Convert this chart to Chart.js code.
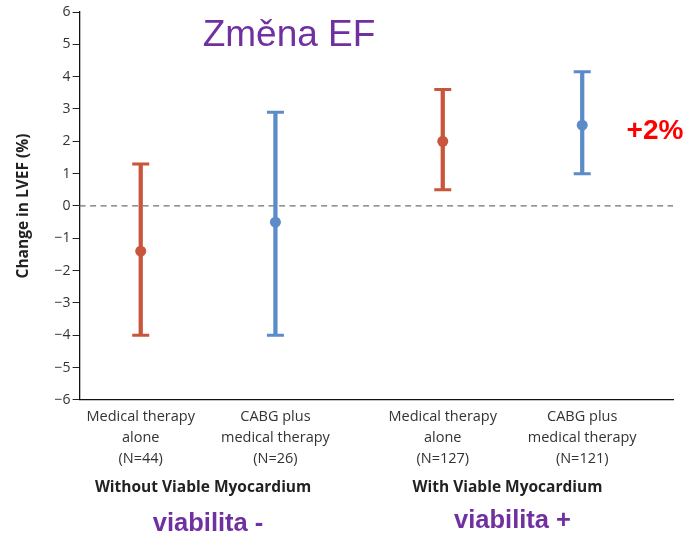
<!DOCTYPE html>
<html>
<head>
<meta charset="utf-8">
<script src="https://cdn.jsdelivr.net/npm/chart.js@4"></script>
<style>
  html, body { margin: 0; padding: 0; background: #fff; }
  #wrap { width: 687px; height: 535px; position: relative; }
</style>
</head>
<body>
<div id="wrap"><canvas id="c" width="687" height="535"></canvas></div>
<script>
// Change in LVEF by treatment arm, split by myocardial viability
const armLabels = [
  ['Medical therapy', 'alone', '(N=44)'],
  ['CABG plus', 'medical therapy', '(N=26)'],
  ['Medical therapy', 'alone', '(N=127)'],
  ['CABG plus', 'medical therapy', '(N=121)']
];
const meanChange = [-1.4, -0.5, 2.0, 2.5];
const ciLow      = [-4.0, -4.0, 0.5, 1.0];
const ciHigh     = [1.3, 2.9, 3.6, 4.15];
const groupLabels = ['Without Viable Myocardium', 'With Viable Myocardium'];
const viabilityLabels = ['viabilita -', 'viabilita +'];
const yTicks = [-6, -5, -4, -3, -2, -1, 0, 1, 2, 3, 4, 5, 6];

// horizontal slot of each arm on the x axis (gap between the two groups)
const slot = [1.03, 3.3, 6.12, 8.47];
const RED = '#C9553C';
const BLUE = '#5B8BC9';
const armColors = [RED, BLUE, RED, BLUE];
const FONT = '"Open Sans", Lato, sans-serif';
const ARIAL = '"Liberation Sans", Arial, sans-serif';

const pts = (vals) => vals.map((v, i) => ({ x: slot[i], y: v }));

const annotations = {
  id: 'annotations',
  beforeDatasetsDraw(chart) {
    const { ctx, chartArea, scales: { y } } = chart;
    const y0 = y.getPixelForValue(0);
    ctx.save();
    ctx.strokeStyle = '#707070';
    ctx.lineWidth = 1.3;
    ctx.setLineDash([6, 4.5]);
    ctx.beginPath();
    ctx.moveTo(chartArea.left, y0);
    ctx.lineTo(chartArea.right, y0);
    ctx.stroke();
    ctx.restore();
  },
  afterDraw(chart) {
    const { ctx, chartArea, scales: { x, y } } = chart;
    ctx.save();
    ctx.textAlign = 'center';
    ctx.textBaseline = 'middle';

    ctx.fillStyle = '#7030A0';
    ctx.font = '37px ' + ARIAL;
    ctx.fillText('Změna EF', 289, 36);

    ctx.fillStyle = '#FF0000';
    ctx.font = 'bold 28px ' + ARIAL;
    ctx.fillText('+2%', 655, y.getPixelForValue(2.3));

    for (let g = 0; g < 2; g++) {
      const cx = (x.getPixelForValue(slot[2 * g]) + x.getPixelForValue(slot[2 * g + 1])) / 2;
      ctx.fillStyle = '#222';
      ctx.font = 'bold 15.5px ' + FONT;
      ctx.fillText(groupLabels[g], cx - 5, chartArea.bottom + 88);
      ctx.fillStyle = '#7030A0';
      ctx.font = 'bold 25.5px ' + ARIAL;
      ctx.fillText(viabilityLabels[g], cx, chartArea.bottom + 124 - 3 * g);
    }
    ctx.restore();
  }
};

new Chart(document.getElementById('c'), {
  data: {
    datasets: [
      {
        type: 'bar',
        data: ciLow.map((lo, i) => ({ x: slot[i], y: [lo, ciHigh[i]] })),
        backgroundColor: armColors,
        barThickness: 3.6,
        grouped: false,
        order: 3
      },
      {
        type: 'scatter',
        data: pts(ciLow).concat(pts(ciHigh)),
        pointStyle: 'line',
        radius: 8.5,
        borderWidth: 3,
        borderColor: armColors.concat(armColors),
        order: 2
      },
      {
        type: 'scatter',
        data: pts(meanChange),
        pointStyle: 'circle',
        radius: 5.5,
        borderWidth: 0,
        backgroundColor: armColors,
        order: 1
      }
    ]
  },
  options: {
    responsive: false,
    animation: false,
    events: [],
    layout: { padding: { top: 12, right: 14, bottom: 60, left: 14 } },
    plugins: { legend: { display: false }, tooltip: { enabled: false } },
    scales: {
      x: {
        type: 'linear',
        offset: false,
        min: 0,
        max: 10,
        afterBuildTicks(scale) { scale.ticks = slot.map(v => ({ value: v })); },
        ticks: {
          autoSkip: false,
          maxRotation: 0,
          padding: 6,
          color: '#333',
          font: { family: FONT, size: 14.5, lineHeight: 1.45 },
          callback(value, index) { return armLabels[index]; }
        },
        grid: { display: true, offset: false, drawOnChartArea: false, drawTicks: false, color: '#000' },
        border: { display: true, color: '#111', width: 1.3 }
      },
      y: {
        min: -6,
        max: 6,
        afterBuildTicks(scale) { scale.ticks = yTicks.map(v => ({ value: v })); },
        ticks: {
          color: '#333',
          padding: 2,
          font: { family: FONT, size: 14 },
          callback(v) { return v < 0 ? '\u2212' + Math.abs(v) : String(v); }
        },
        grid: { display: true, drawOnChartArea: false, drawTicks: true, tickLength: 7, color: '#222' },
        border: { display: true, color: '#111', width: 1.3 },
        title: {
          display: true,
          text: 'Change in LVEF (%)',
          color: '#222',
          font: { family: FONT, size: 15.5, weight: 'bold' },
          padding: { top: 0, bottom: 20 }
        }
      }
    }
  },
  plugins: [annotations]
});
</script>
</body>
</html>
